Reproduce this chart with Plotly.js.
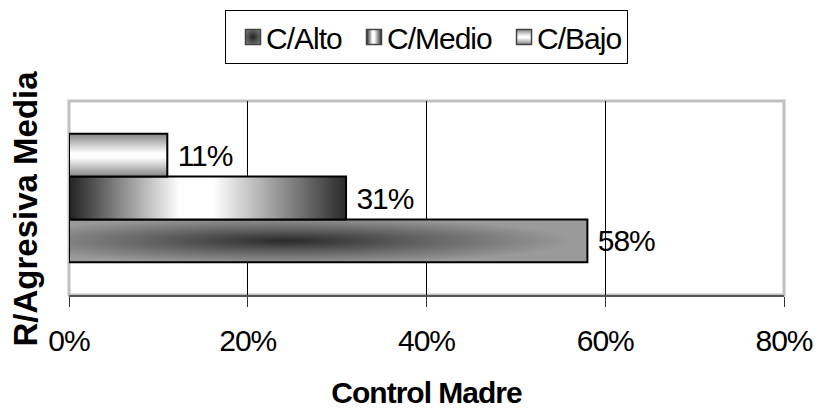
<!DOCTYPE html>
<html>
<head>
<meta charset="utf-8">
<script src="https://cdn.plot.ly/plotly-3.0.1.min.js"></script>
<style>
html,body{margin:0;padding:0;background:#fff;}
#chart{width:820px;height:416px;}
svg text{letter-spacing:-1px;}
svg text.ytitle{letter-spacing:0px;}
</style>
</head>
<body>
<div id="chart"></div>
<script>
const categories = ['Media'];
const seriesNames = ['C/Alto', 'C/Medio', 'C/Bajo'];
const valuesAlto = [0.58];
const valuesMedio = [0.31];
const valuesBajo = [0.11];
const xTickVals = [0, 0.2, 0.4, 0.6, 0.8];
const xTickText = ['0%', '20%', '40%', '60%', '80%'];

const FONT = "'Liberation Sans', Arial, sans-serif";
const seriesValues = [valuesAlto, valuesMedio, valuesBajo];
const gradIds = ['gAlto', 'gMedio', 'gBajo'];

const traces = seriesNames.map((name, i) => ({
  type: 'bar',
  orientation: 'h',
  name: name,
  y: categories,
  x: seriesValues[i],
  text: seriesValues[i].map(v => '\u00a0' + Math.round(v * 100) + '%'),
  textposition: 'outside',
  constraintext: 'none',
  cliponaxis: false,
  textfont: {family: FONT, size: 30, color: '#000'},
  marker: {color: '#999', line: {color: '#000', width: 2}},
  hoverinfo: 'none'
}));

const layout = {
  width: 820, height: 416,
  margin: {l: 69, r: 36, t: 100, b: 121},
  paper_bgcolor: '#fff', plot_bgcolor: '#fff',
  font: {family: FONT, size: 30, color: '#000'},
  barmode: 'group',
  bargap: 0.338,
  bargroupgap: 0,
  showlegend: true,
  legend: {
    orientation: 'h', x: 0.5, xanchor: 'center', y: 1.4615, yanchor: 'top',
    traceorder: 'normal',
    bordercolor: '#000', borderwidth: 1,
    font: {family: FONT, size: 30, color: '#000'},
    itemwidth: 30
  },
  xaxis: {
    range: [0, 0.8],
    tickvals: xTickVals, ticktext: xTickText,
    showgrid: true, gridcolor: '#000', gridwidth: 1,
    zeroline: false,
    showline: true, linecolor: '#555', linewidth: 2,
    ticks: 'outside', ticklen: 10, tickcolor: '#333', tickwidth: 1,
    ticklabelstandoff: 8,
    tickfont: {family: FONT, size: 30, color: '#000'},
    title: {text: '<b>Control Madre</b>', font: {family: FONT, size: 30, color: '#000'}, standoff: 26}
  },
  yaxis: {
    type: 'category',
    showticklabels: false, ticks: '',
    showgrid: false, zeroline: false, showline: false,
    title: {text: '<b>R/Agresiva Media</b>', font: {family: FONT, size: 33, color: '#000'}, standoff: 20}
  },
  shapes: [{
    type: 'rect', xref: 'paper', yref: 'paper', x0: 0, x1: 1, y0: 0, y1: 1,
    line: {color: '#c0c0c0', width: 3}, layer: 'below'
  }]
};

function addGradients(gd) {
  const svg = gd.querySelector('.main-svg');
  const NS = 'http://www.w3.org/2000/svg';
  let defs = svg.querySelector('defs');
  if (!defs) { defs = document.createElementNS(NS, 'defs'); svg.insertBefore(defs, svg.firstChild); }
  defs.insertAdjacentHTML('beforeend',
    '<radialGradient id="gAlto" cx="0.42" cy="0.5" r="0.55" xmlns="http://www.w3.org/2000/svg">' +
      '<stop offset="0" stop-color="#2a2a2a"/><stop offset="0.5" stop-color="#656565"/><stop offset="1" stop-color="#9a9a9a"/>' +
    '</radialGradient>' +
    '<linearGradient id="gMedio" x1="0" y1="0" x2="1" y2="0" xmlns="http://www.w3.org/2000/svg">' +
      '<stop offset="0" stop-color="#222222"/><stop offset="0.4" stop-color="#ffffff"/><stop offset="0.52" stop-color="#ffffff"/><stop offset="1" stop-color="#2a2a2a"/>' +
    '</linearGradient>' +
    '<linearGradient id="gBajo" x1="0" y1="0" x2="0" y2="1" xmlns="http://www.w3.org/2000/svg">' +
      '<stop offset="0" stop-color="#858585"/><stop offset="0.45" stop-color="#ffffff"/><stop offset="0.55" stop-color="#ffffff"/><stop offset="1" stop-color="#858585"/>' +
    '</linearGradient>' +
    '<radialGradient id="gAltoL" cx="0.5" cy="0.5" r="0.6" xmlns="http://www.w3.org/2000/svg">' +
      '<stop offset="0" stop-color="#222222"/><stop offset="1" stop-color="#777777"/>' +
    '</radialGradient>');
  gd.querySelectorAll('.barlayer .trace').forEach((t, i) => {
    t.querySelectorAll('.point path').forEach(p => p.style.setProperty('fill', 'url(#' + gradIds[i] + ')'));
  });
  const legIds = ['gAltoL', 'gMedio', 'gBajo'];
  gd.querySelectorAll('.legend .traces').forEach((t, i) => {
    t.querySelectorAll('.legendpoints path').forEach(p => {
      p.style.setProperty('fill', 'url(#' + legIds[i] + ')');
      p.style.setProperty('stroke', '#444');
      p.style.setProperty('stroke-width', '1.2px');
      const tr = p.getAttribute('transform') || '';
      p.setAttribute('transform', tr + ' translate(7,0) scale(1.25)');
    });
  });
  const yt = gd.querySelector('.ytitle');
  if (yt) yt.setAttribute('transform', 'translate(0,11) ' + (yt.getAttribute('transform') || ''));
}

Plotly.newPlot('chart', traces, layout, {staticPlot: true}).then(addGradients);
</script>
</body>
</html>
